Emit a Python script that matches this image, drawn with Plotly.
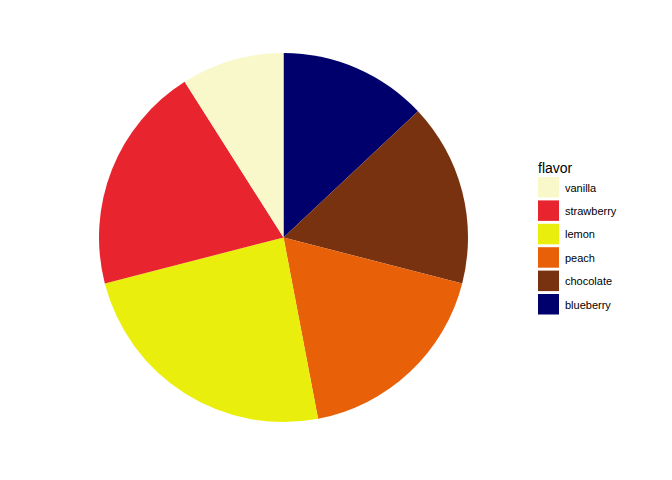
import plotly.graph_objects as go

flavors = ["vanilla", "strawberry", "lemon", "peach", "chocolate", "blueberry"]
shares = [9, 20, 24, 18, 16, 13]
colors = ["#F8F8CA", "#E8242E", "#EAEE0C", "#E86008", "#783210", "#00006C"]

W, H = 672, 480

# slices run counterclockwise from 12 o'clock in legend order; drawn clockwise in reverse
fig = go.Figure(go.Pie(
    labels=flavors[::-1], values=shares[::-1], sort=False, direction="clockwise",
    rotation=0, textinfo="none", hoverinfo="label+value",
    marker=dict(colors=colors[::-1], line=dict(width=0)),
    domain=dict(x=[99 / W, 468 / W], y=[58 / H, 427 / H]),
    showlegend=False,
))

# manual ggplot-style legend
shapes = []
annotations = [dict(text="flavor", x=536 / W, y=1 - 168 / H, xref="paper", yref="paper",
                    xanchor="left", yanchor="middle", showarrow=False,
                    font=dict(size=14, color="#000000", family="Liberation Sans, Arial"))]
for i, (name, c) in enumerate(zip(flavors, colors)):
    top = 177 + i * 23.4
    shapes.append(dict(type="rect", xref="paper", yref="paper",
                       x0=538 / W, x1=559 / W, y0=1 - (top + 20.5) / H, y1=1 - top / H,
                       fillcolor=c, line=dict(width=0)))
    annotations.append(dict(text=name, x=563 / W, y=1 - (top + 10.5) / H,
                            xref="paper", yref="paper", xanchor="left", yanchor="middle",
                            showarrow=False,
                            font=dict(size=11, color="#000000", family="Liberation Sans, Arial")))

fig.update_layout(width=W, height=H, margin=dict(l=0, r=0, t=0, b=0),
                  paper_bgcolor="white", plot_bgcolor="white",
                  shapes=shapes, annotations=annotations)
fig.write_html("out.html", config={"displayModeBar": False},
               post_script="document.body.style.margin='0';")
